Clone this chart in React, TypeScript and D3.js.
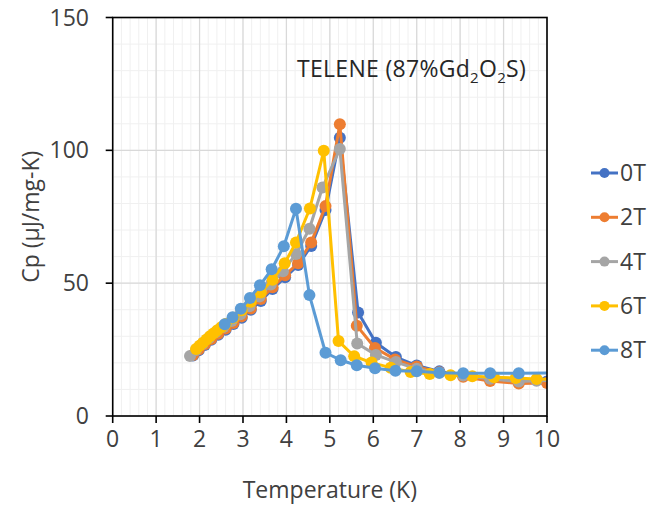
import React from "react";
import * as d3 from "d3";

const seriesNames = ["0T", "2T", "4T", "6T", "8T"];
const seriesColors = ["#4472C4", "#ED7D31", "#A5A5A5", "#FFC000", "#5B9BD5"];

const temps0T = [1.85, 1.98, 2.12, 2.27, 2.43, 2.6, 2.78, 2.97, 3.18, 3.41, 3.68, 3.97, 4.27, 4.57, 4.9, 5.23, 5.65, 6.06, 6.52, 7.0, 7.52, 8.07, 8.69, 9.35, 10.0, 10.7];
const cp0T = [22.8, 24.7, 26.7, 28.7, 30.6, 32.5, 34.6, 37.0, 40.0, 43.3, 47.8, 52.2, 56.8, 64.0, 77.5, 104.7, 39.0, 27.6, 22.2, 19.0, 16.8, 15.3, 14.2, 13.3, 13.0, 12.9];

const temps2T = [1.85, 1.98, 2.12, 2.27, 2.43, 2.6, 2.78, 2.97, 3.18, 3.41, 3.68, 3.97, 4.27, 4.57, 4.9, 5.23, 5.62, 6.04, 6.5, 7.0, 7.52, 8.07, 8.69, 9.35, 10.0, 10.7];
const cp2T = [23.0, 25.0, 27.0, 29.0, 31.0, 32.9, 35.0, 37.5, 40.5, 44.0, 48.5, 53.0, 57.5, 65.3, 79.0, 109.8, 34.0, 25.6, 21.3, 18.6, 16.5, 14.8, 13.2, 12.2, 12.4, 12.5];

const temps4T = [1.78, 1.92, 2.06, 2.21, 2.37, 2.55, 2.74, 2.94, 3.15, 3.38, 3.64, 3.92, 4.22, 4.53, 4.83, 5.23, 5.63, 6.06, 6.52, 7.0, 7.52, 8.07, 8.69, 9.35, 9.76, 10.2];
const cp4T = [22.6, 24.8, 27.0, 29.3, 31.5, 33.5, 35.8, 38.3, 41.3, 45.0, 49.5, 54.5, 61.0, 70.5, 86.0, 100.5, 27.3, 23.0, 20.3, 17.8, 16.3, 15.2, 14.0, 13.0, 13.3, 13.5];

const temps6T = [1.92, 2.0, 2.08, 2.16, 2.24, 2.32, 2.41, 2.5, 2.6, 2.78, 2.97, 3.18, 3.41, 3.68, 3.96, 4.22, 4.54, 4.86, 5.2, 5.56, 5.96, 6.4, 6.86, 7.3, 7.78, 8.28, 8.78, 9.28, 9.76, 10.2];
const cp6T = [25.2, 26.4, 27.6, 28.8, 30.0, 31.1, 32.3, 33.4, 34.6, 37.0, 39.8, 43.0, 46.5, 51.3, 57.5, 65.3, 78.1, 99.8, 28.2, 22.5, 20.1, 18.2, 16.6, 15.8, 15.3, 15.0, 14.6, 14.3, 13.9, 13.8];

const temps8T = [2.58, 2.76, 2.95, 3.16, 3.39, 3.66, 3.94, 4.22, 4.53, 4.9, 5.25, 5.62, 6.04, 6.51, 7.0, 7.52, 8.07, 8.69, 9.35, 10.7];
const cp8T = [34.5, 37.2, 40.4, 44.4, 49.2, 55.2, 63.9, 78.0, 45.5, 23.8, 21.0, 19.1, 18.0, 17.0, 16.8, 16.3, 16.1, 16.1, 16.1, 16.3];

const xTicks = [0, 1, 2, 3, 4, 5, 6, 7, 8, 9, 10];
const yTicks = [0, 50, 100, 150];

const allTemps = [temps0T, temps2T, temps4T, temps6T, temps8T];
const allCp = [cp0T, cp2T, cp4T, cp6T, cp8T];

const FONT = "'Open Sans', sans-serif";
const TXT = "#404040";

export default function App() {
  const W = 661, H = 506;
  const L = 112.7, R = 547, T = 17.5, B = 416;
  const x = d3.scaleLinear().domain([0, 10]).range([L, R]);
  const y = d3.scaleLinear().domain([0, 150]).range([B, T]);

  const minorX = d3.range(0, 10.0001, 0.2);
  const minorY = d3.range(0, 150.0001, 10);

  const line = d3
    .line<[number, number]>()
    .x((d) => x(d[0]))
    .y((d) => y(d[1]));

  const series = seriesNames.map((name, i) => ({
    name,
    color: seriesColors[i],
    pts: allTemps[i].map((t, j) => [t, allCp[i][j]] as [number, number]),
  }));

  const legendY0 = 173, legendStep = 44.3;

  return (
    <svg width={W} height={H} style={{ position: "absolute", left: 0, top: 0, background: "#fff" }} fontFamily={FONT}>
      <defs>
        <clipPath id="plot">
          <rect x={L} y={T} width={R - L} height={B - T} />
        </clipPath>
      </defs>
      {minorX.map((v, i) => (
        <line key={"mx" + i} x1={x(v)} x2={x(v)} y1={T} y2={B} stroke="#F0F0F0" strokeWidth={1} />
      ))}
      {minorY.map((v, i) => (
        <line key={"my" + i} x1={L} x2={R} y1={y(v)} y2={y(v)} stroke="#F0F0F0" strokeWidth={1} />
      ))}
      {xTicks.map((v) => (
        <line key={"gx" + v} x1={x(v)} x2={x(v)} y1={T} y2={B} stroke="#D9D9D9" strokeWidth={1.25} />
      ))}
      {yTicks.map((v) => (
        <line key={"gy" + v} x1={L} x2={R} y1={y(v)} y2={y(v)} stroke="#D9D9D9" strokeWidth={1.25} />
      ))}
      <g clipPath="url(#plot)">
        {series.map((s) => (
          <g key={s.name}>
            <path d={line(s.pts) || ""} fill="none" stroke={s.color} strokeWidth={3} strokeLinejoin="round" />
            {s.pts.map((p, j) => (
              <circle key={j} cx={x(p[0])} cy={y(p[1])} r={6} fill={s.color} />
            ))}
          </g>
        ))}
      </g>
      <rect x={L} y={T} width={R - L} height={B - T} fill="none" stroke="#000" strokeWidth={1.6} />
      {xTicks.map((v) => (
        <g key={"xt" + v}>
          <line x1={x(v)} x2={x(v)} y1={B} y2={B + 7} stroke="#000" strokeWidth={1.6} />
          <text x={x(v)} y={447} textAnchor="middle" fontSize={23} fill={TXT}>{v}</text>
        </g>
      ))}
      {yTicks.map((v) => (
        <g key={"yt" + v}>
          <line x1={L - 7} x2={L} y1={y(v)} y2={y(v)} stroke="#000" strokeWidth={1.6} />
          <text x={89} y={y(v) + 8} textAnchor="end" fontSize={23} fill={TXT}>{v}</text>
        </g>
      ))}
      <text x={(L + R) / 2} y={498} textAnchor="middle" fontSize={23} fill={TXT}>Temperature (K)</text>
      <text transform={`translate(39, ${(T + B) / 2}) rotate(-90)`} textAnchor="middle" fontSize={23} fill={TXT}>Cp (µJ/mg-K)</text>
      <text x={297} y={77} fontSize={23} fill="#262626" letterSpacing={0.3}>
        TELENE (87%Gd<tspan dy={6} fontSize={15}>2</tspan><tspan dy={-6}>O</tspan><tspan dy={6} fontSize={15}>2</tspan><tspan dy={-6}>S)</tspan>
      </text>
      {series.map((s, i) => {
        const ly = legendY0 + i * legendStep;
        return (
          <g key={"lg" + s.name}>
            <line x1={591} x2={618} y1={ly} y2={ly} stroke={s.color} strokeWidth={3} />
            <circle cx={604.5} cy={ly} r={5} fill={s.color} />
            <text x={620} y={ly + 8} fontSize={23} fill={TXT}>{s.name}</text>
          </g>
        );
      })}
    </svg>
  );
}
